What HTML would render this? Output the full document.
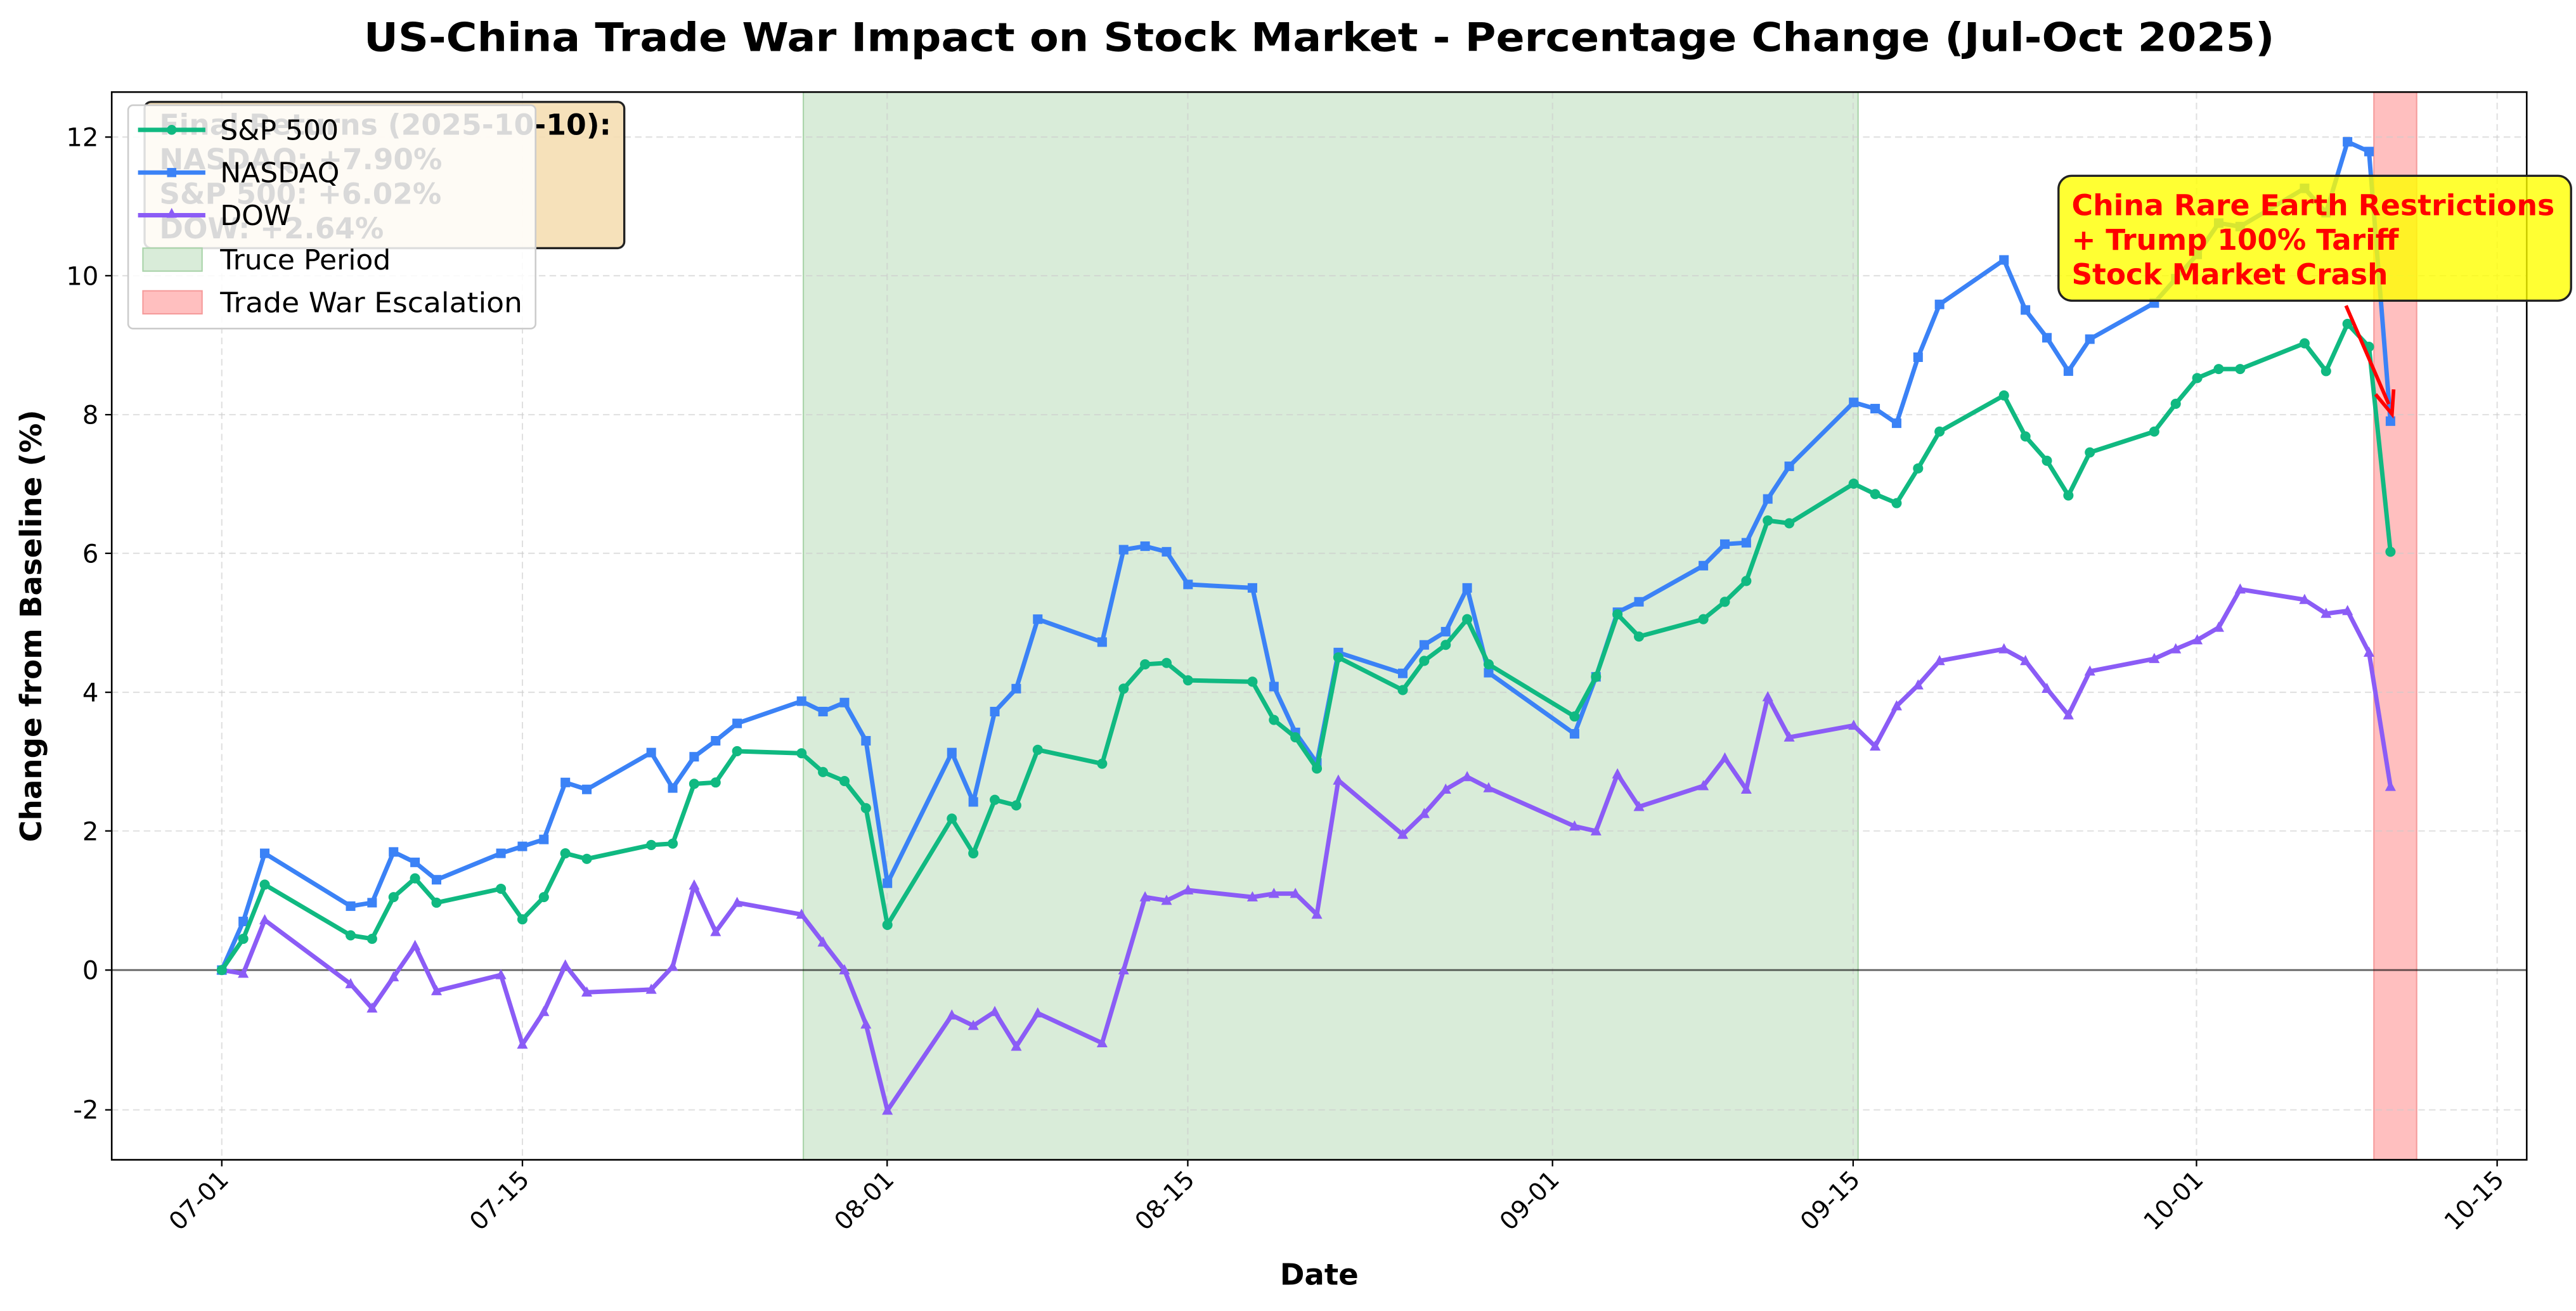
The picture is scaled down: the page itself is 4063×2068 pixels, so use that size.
<!DOCTYPE html>
<html><head><meta charset="utf-8"><style>
html,body{margin:0;padding:0;background:#fff;}
svg{display:block;font-family:"DejaVu Sans","Liberation Sans",sans-serif;}
</style></head><body>
<svg width="4063" height="2068" viewBox="0 0 1568 798" xmlns="http://www.w3.org/2000/svg">
<defs>
<marker id="mc" markerUnits="userSpaceOnUse" markerWidth="1" markerHeight="1" refX="0" refY="0" overflow="visible"><circle cx="0" cy="0" r="3.1" fill="#10b981" transform="scale(0.0765,-0.02364)"/></marker>
<marker id="ms" markerUnits="userSpaceOnUse" markerWidth="1" markerHeight="1" refX="0" refY="0" overflow="visible"><rect x="-2.9" y="-2.9" width="5.8" height="5.8" fill="#3b82f6" transform="scale(0.0765,-0.02364)"/></marker>
<marker id="mt" markerUnits="userSpaceOnUse" markerWidth="1" markerHeight="1" refX="0" refY="0" overflow="visible"><polygon points="0,-3.6 3.3,2.6 -3.3,2.6" fill="#8b5cf6" transform="scale(0.0765,-0.02364)"/></marker>
</defs>
<rect width="1568" height="798" fill="#fff"/>
<text x="803" y="31" text-anchor="middle" font-size="24" font-weight="bold" textLength="1163" lengthAdjust="spacingAndGlyphs">US-China Trade War Impact on Stock Market - Percentage Change (Jul-Oct 2025)</text>
<rect x="489" y="56" width="642" height="650" fill="#d9ecd9"/>
<line x1="489" y1="56" x2="489" y2="706" stroke="#a8d3a8" stroke-width="0.8"/>
<line x1="1131" y1="56" x2="1131" y2="706" stroke="#a8d3a8" stroke-width="0.8"/>
<rect x="1445" y="56" width="26" height="650" fill="#ffbfbf" stroke="#f59a9a" stroke-width="0.8"/>
<g stroke="#cccccc" stroke-opacity="0.6" stroke-width="0.8" stroke-dasharray="4,2.5">
<line x1="68" x2="1538" y1="83.4" y2="83.4"/><line x1="68" x2="1538" y1="167.8" y2="167.8"/><line x1="68" x2="1538" y1="252.4" y2="252.4"/><line x1="68" x2="1538" y1="336.8" y2="336.8"/><line x1="68" x2="1538" y1="421.4" y2="421.4"/><line x1="68" x2="1538" y1="505.8" y2="505.8"/><line x1="68" x2="1538" y1="675.6" y2="675.6"/>
<line y1="56" y2="706" x1="135" x2="135"/><line y1="56" y2="706" x1="318" x2="318"/><line y1="56" y2="706" x1="540" x2="540"/><line y1="56" y2="706" x1="723" x2="723"/><line y1="56" y2="706" x1="945" x2="945"/><line y1="56" y2="706" x1="1128" x2="1128"/><line y1="56" y2="706" x1="1337" x2="1337"/><line y1="56" y2="706" x1="1520" x2="1520"/>
</g>
<line x1="68" x2="1538" y1="590.5" y2="590.5" stroke="#000" stroke-opacity="0.6" stroke-width="1.1"/>
<g transform="translate(135,590.5) scale(13.07,-42.3)" fill="none" stroke-linejoin="round">
<polyline vector-effect="non-scaling-stroke" stroke="#8b5cf6" stroke-width="7" marker-start="url(#mt)" marker-mid="url(#mt)" marker-end="url(#mt)" points="0,0 1,-0.05 2,0.72 6,-0.2 7,-0.55 8,-0.1 9,0.35 10,-0.3 13,-0.07 14,-1.07 15,-0.6 16,0.07 17,-0.32 20,-0.28 21,0.05 22,1.22 23,0.55 24,0.97 27,0.8 28,0.4 29,0 30,-0.78 31,-2.02 34,-0.65 35,-0.8 36,-0.6 37,-1.1 38,-0.62 41,-1.05 42,0 43,1.05 44,1.0 45,1.15 48,1.05 49,1.1 50,1.1 51,0.8 52,2.73 55,1.95 56,2.25 57,2.6 58,2.78 59,2.62 63,2.07 64,2.0 65,2.82 66,2.35 69,2.65 70,3.05 71,2.6 72,3.93 73,3.35 76,3.52 77,3.22 78,3.8 79,4.1 80,4.45 83,4.62 84,4.45 85,4.05 86,3.67 87,4.3 90,4.48 91,4.62 92,4.75 93,4.93 94,5.48 97,5.33 98,5.13 99,5.17 100,4.57 101,2.64"/>
<polyline vector-effect="non-scaling-stroke" stroke="#3b82f6" stroke-width="7" marker-start="url(#ms)" marker-mid="url(#ms)" marker-end="url(#ms)" points="0,0 1,0.7 2,1.68 6,0.92 7,0.97 8,1.7 9,1.55 10,1.3 13,1.68 14,1.78 15,1.88 16,2.7 17,2.6 20,3.13 21,2.62 22,3.07 23,3.3 24,3.55 27,3.87 28,3.72 29,3.85 30,3.3 31,1.25 34,3.13 35,2.42 36,3.72 37,4.05 38,5.05 41,4.72 42,6.05 43,6.1 44,6.02 45,5.55 48,5.5 49,4.08 50,3.42 51,2.98 52,4.57 55,4.27 56,4.68 57,4.87 58,5.5 59,4.28 63,3.4 64,4.22 65,5.15 66,5.3 69,5.82 70,6.13 71,6.15 72,6.78 73,7.25 76,8.17 77,8.08 78,7.87 79,8.82 80,9.58 83,10.22 84,9.5 85,9.1 86,8.62 87,9.08 90,9.6 91,9.95 92,10.3 93,10.75 94,10.7 97,11.25 98,10.9 99,11.92 100,11.78 101,7.9"/>
<polyline vector-effect="non-scaling-stroke" stroke="#10b981" stroke-width="7" marker-start="url(#mc)" marker-mid="url(#mc)" marker-end="url(#mc)" points="0,0 1,0.45 2,1.23 6,0.5 7,0.45 8,1.05 9,1.32 10,0.97 13,1.17 14,0.73 15,1.05 16,1.68 17,1.6 20,1.8 21,1.82 22,2.68 23,2.7 24,3.15 27,3.12 28,2.85 29,2.72 30,2.33 31,0.65 34,2.18 35,1.68 36,2.45 37,2.37 38,3.17 41,2.97 42,4.05 43,4.4 44,4.42 45,4.17 48,4.15 49,3.6 50,3.35 51,2.9 52,4.5 55,4.03 56,4.45 57,4.68 58,5.05 59,4.4 63,3.65 64,4.22 65,5.12 66,4.8 69,5.05 70,5.3 71,5.6 72,6.47 73,6.43 76,7.0 77,6.85 78,6.72 79,7.22 80,7.75 83,8.27 84,7.68 85,7.33 86,6.83 87,7.45 90,7.75 91,8.15 92,8.52 93,8.65 94,8.65 97,9.02 98,8.62 99,9.3 100,8.97 101,6.02"/>
</g>
<rect x="68" y="56" width="1470" height="650" fill="none" stroke="#000" stroke-width="1"/>
<g stroke="#000" stroke-width="0.9">
<line x1="64" x2="68" y1="83.4" y2="83.4"/><line x1="64" x2="68" y1="167.8" y2="167.8"/><line x1="64" x2="68" y1="252.4" y2="252.4"/><line x1="64" x2="68" y1="336.8" y2="336.8"/><line x1="64" x2="68" y1="421.4" y2="421.4"/><line x1="64" x2="68" y1="505.8" y2="505.8"/><line x1="64" x2="68" y1="590.5" y2="590.5"/><line x1="64" x2="68" y1="675.6" y2="675.6"/>
<line y1="706" y2="710" x1="135" x2="135"/><line y1="706" y2="710" x1="318" x2="318"/><line y1="706" y2="710" x1="540" x2="540"/><line y1="706" y2="710" x1="723" x2="723"/><line y1="706" y2="710" x1="945" x2="945"/><line y1="706" y2="710" x1="1128" x2="1128"/><line y1="706" y2="710" x1="1337" x2="1337"/><line y1="706" y2="710" x1="1520" x2="1520"/>
</g>
<g font-size="15.5" text-anchor="end">
<text x="60" y="89">12</text><text x="60" y="173.5">10</text><text x="60" y="258">8</text><text x="60" y="342.5">6</text><text x="60" y="427">4</text><text x="60" y="511.5">2</text><text x="60" y="596">0</text><text x="60" y="681">-2</text>
</g>
<g font-size="15" text-anchor="end">
<text transform="translate(140,719) rotate(-45)">07-01</text>
<text transform="translate(323,719) rotate(-45)">07-15</text>
<text transform="translate(545,719) rotate(-45)">08-01</text>
<text transform="translate(728,719) rotate(-45)">08-15</text>
<text transform="translate(950,719) rotate(-45)">09-01</text>
<text transform="translate(1133,719) rotate(-45)">09-15</text>
<text transform="translate(1342,719) rotate(-45)">10-01</text>
<text transform="translate(1525,719) rotate(-45)">10-15</text>
</g>
<text x="803" y="782" text-anchor="middle" font-size="18" font-weight="bold">Date</text>
<text transform="translate(25,381) rotate(-90)" text-anchor="middle" font-size="18" font-weight="bold">Change from Baseline (%)</text>
<rect x="1253" y="107" width="312" height="76" rx="8" fill="#ffff00" fill-opacity="0.8" stroke="#222" stroke-width="1.3"/>
<g font-size="17.5" font-weight="bold" fill="#ff0000">
<text x="1261" y="131" textLength="294" lengthAdjust="spacingAndGlyphs">China Rare Earth Restrictions</text>
<text x="1261" y="152">+ Trump 100% Tariff</text>
<text x="1261" y="173">Stock Market Crash</text>
</g>
<line x1="1428" y1="186" x2="1454" y2="246" stroke="#ff0000" stroke-width="2.2"/>
<polyline points="1446,240 1456,252 1457,237" fill="none" stroke="#ff0000" stroke-width="2.2"/>
<rect x="88" y="62" width="292" height="89" rx="4" fill="#f5deb3" fill-opacity="0.9" stroke="#222" stroke-width="1.3"/>
<g font-size="17.5" font-weight="bold" fill="#000">
<text x="97" y="82" textLength="275" lengthAdjust="spacingAndGlyphs">Final Returns (2025-10-10):</text>
<text x="97" y="103">NASDAQ: +7.90%</text>
<text x="97" y="124">S&amp;P 500: +6.02%</text>
<text x="97" y="145">DOW: +2.64%</text>
</g>
<rect x="78" y="64" width="248" height="136" rx="3" fill="#fff" fill-opacity="0.85" stroke="#cccccc" stroke-width="1"/>
<g stroke-width="2.7">
<line x1="84" x2="125" y1="79" y2="79" stroke="#10b981"/><circle cx="104.5" cy="79" r="3" fill="#10b981"/>
<line x1="84" x2="125" y1="105" y2="105" stroke="#3b82f6"/><rect x="101.7" y="102.2" width="5.6" height="5.6" fill="#3b82f6"/>
<line x1="84" x2="125" y1="131" y2="131" stroke="#8b5cf6"/><polygon points="104.5,126.5 107.6,132.5 101.4,132.5" fill="#8b5cf6"/>
</g>
<rect x="87" y="151" width="36" height="14" fill="#d9ecd9" stroke="#a8d3a8" stroke-width="0.8"/>
<rect x="87" y="177" width="36" height="14" fill="#ffbfbf" stroke="#f59a9a" stroke-width="0.8"/>
<g font-size="17" fill="#000">
<text x="134" y="85">S&amp;P 500</text>
<text x="134" y="111">NASDAQ</text>
<text x="134" y="137">DOW</text>
<text x="134" y="164">Truce Period</text>
<text x="134" y="190" textLength="184" lengthAdjust="spacingAndGlyphs">Trade War Escalation</text>
</g>
</svg>
</body></html>
